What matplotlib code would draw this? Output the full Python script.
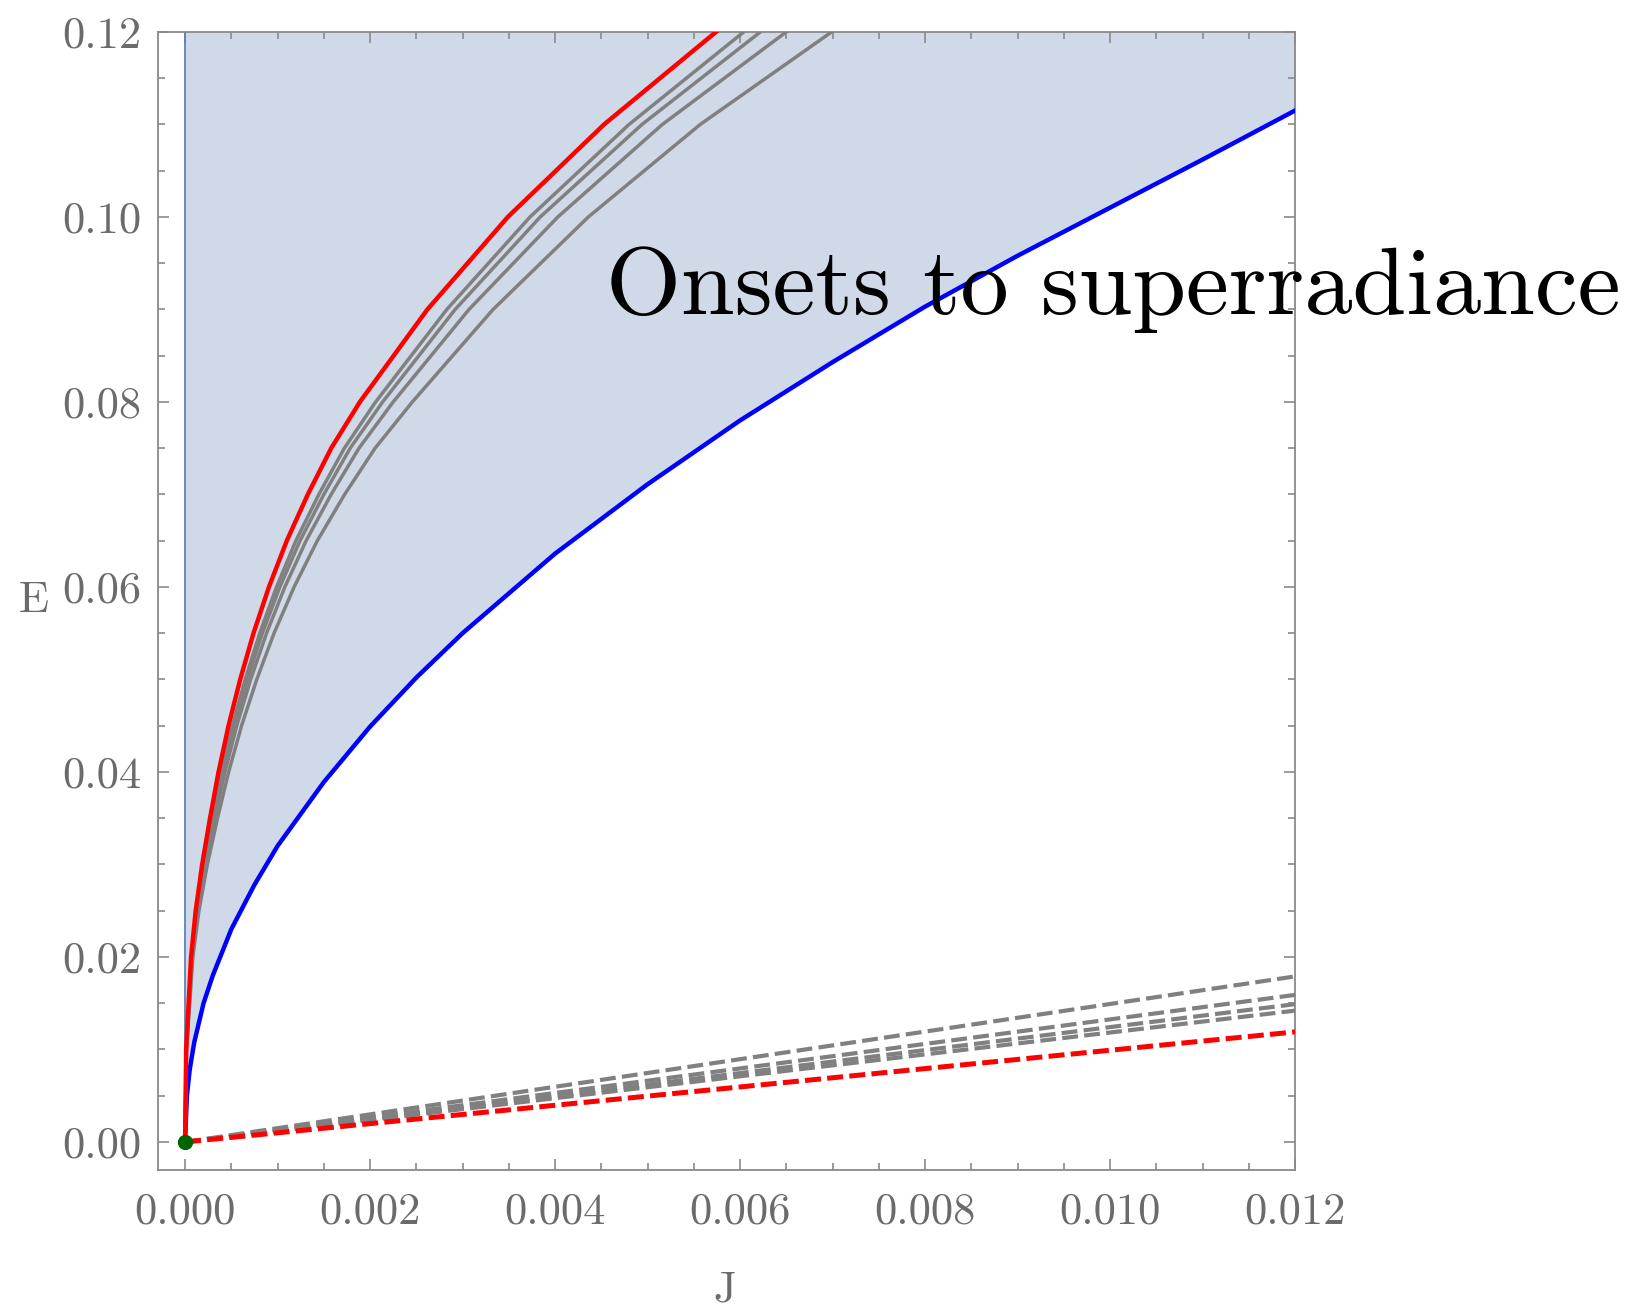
import numpy as np
import matplotlib.pyplot as plt
from matplotlib.ticker import MultipleLocator

# onset curves, J as a function of E
E_grid = [0, 0.01, 0.02, 0.025, 0.03, 0.035, 0.04, 0.045, 0.05, 0.055, 0.06,
          0.065, 0.07, 0.075, 0.08, 0.09, 0.10, 0.11, 0.12]
J_red = [0, 0.000012, 0.000065, 0.000115, 0.000185, 0.000270, 0.000362, 0.000470, 0.000596,
         0.000740, 0.000907, 0.001100, 0.001327, 0.00158, 0.00189, 0.00262, 0.00349, 0.00453, 0.00574]
J_gray = [
    [0, 0.000013, 0.000071, 0.000125, 0.000202, 0.000294, 0.000395, 0.000512, 0.000650,
     0.000807, 0.000989, 0.001199, 0.001446, 0.001722, 0.00206, 0.00283, 0.00373, 0.00480, 0.00604],
    [0, 0.0000136, 0.0000735, 0.000130, 0.000209, 0.000305, 0.000409, 0.000531, 0.000673,
     0.000836, 0.001025, 0.001243, 0.001500, 0.001785, 0.002136, 0.00292, 0.00384, 0.00494, 0.00622],
    [0, 0.0000143, 0.0000774, 0.000137, 0.000220, 0.000321, 0.000431, 0.000559, 0.000709,
     0.000881, 0.001079, 0.001309, 0.001579, 0.00188, 0.00225, 0.00307, 0.00403, 0.00516, 0.00650],
    [0, 0.0000156, 0.0000845, 0.000150, 0.000241, 0.000351, 0.000471, 0.000611, 0.000775,
     0.000962, 0.001179, 0.00143, 0.001725, 0.002054, 0.002457, 0.00333, 0.00436, 0.00557, 0.00699],
]

# lower boundary, E as a function of J
J_blue = [0, 0.00002, 0.00005, 0.0001, 0.0002, 0.0003, 0.0005, 0.00075, 0.001, 0.0015, 0.002,
          0.0025, 0.003, 0.004, 0.005, 0.006, 0.007, 0.008, 0.009, 0.010, 0.011, 0.012]
E_blue = [0, 0.0050, 0.0078, 0.0108, 0.0150, 0.0180, 0.0230, 0.0278, 0.0320, 0.0389, 0.0449,
          0.0502, 0.0550, 0.0636, 0.0711, 0.0780, 0.0843, 0.0903, 0.0958, 0.1010, 0.1062, 0.1115]

# straight dashed lines from the origin: E at J = 0.012
J_line = [0, 0.012]
E_red_line = [0, 0.0119]
E_gray_line = [0.0179, 0.0159, 0.0149, 0.0142]

plt.rcParams['font.family'] = ['cmr10', 'DejaVu Serif']
plt.rcParams['axes.formatter.use_mathtext'] = True

fig = plt.figure(figsize=(16.31, 13.09), dpi=100)
ax = fig.add_axes([0.0969, 0.1062, 0.6971, 0.8694])

ax.fill_between(J_blue, E_blue, 0.125, color='#cfd9e7', lw=0, zorder=1)
ax.plot([0, 0], [0, 0.125], color='#5e81b5', lw=1.3, zorder=2)

ax.plot(J_blue, E_blue, color='#0000ff', lw=3.2, zorder=3, solid_joinstyle='round')
for J in J_gray:
    ax.plot(J, E_grid, color='#808080', lw=2.5, zorder=3, solid_joinstyle='round')
ax.plot(J_red, E_grid, color='#ff0000', lw=3.2, zorder=4, solid_joinstyle='round')

for E in E_gray_line:
    ax.plot(J_line, [0, E], color='#808080', lw=3.0, ls=(0, (3.8, 1.5)), zorder=3)
ax.plot(J_line, E_red_line, color='#ff0000', lw=3.6, ls=(0, (3.2, 1.25)), zorder=4)

ax.plot([0], [0], 'o', color='#006400', ms=10, zorder=5, clip_on=False)

ax.text(0.00455, 0.0895, 'Onsets to superradiance', fontsize=69.5, color='black',
        ha='left', va='baseline', zorder=6)

ax.set_xlim(-0.000292, 0.012)
ax.set_ylim(-0.003027, 0.12)

ax.xaxis.set_minor_locator(MultipleLocator(0.0005))
ax.yaxis.set_minor_locator(MultipleLocator(0.005))
xt = np.arange(0, 0.0121, 0.002)
yt = np.arange(0, 0.121, 0.02)
ax.set_xticks(xt)
ax.set_xticklabels(['%.3f' % v for v in xt])
ax.set_yticks(yt)
ax.set_yticklabels(['%.2f' % v for v in yt])

for s in ax.spines.values():
    s.set_color('#8a8a8a')
    s.set_linewidth(1.3)
ax.tick_params(which='both', direction='in', top=True, right=True, color='#8a8a8a', width=1.2)
ax.tick_params(which='major', length=8, labelsize=32, labelcolor='#6b6b6b', pad=12)
ax.tick_params(which='minor', length=5)
ax.tick_params(axis='x', which='major', pad=16)

ax.text(-0.109, 0.5, 'E', transform=ax.transAxes, fontsize=32, color='#6b6b6b',
        ha='center', va='center')
ax.text(0.4987, -0.1056, 'J', transform=ax.transAxes, fontsize=32, color='#6b6b6b',
        ha='center', va='center')

fig.savefig('out.png', dpi=100)
